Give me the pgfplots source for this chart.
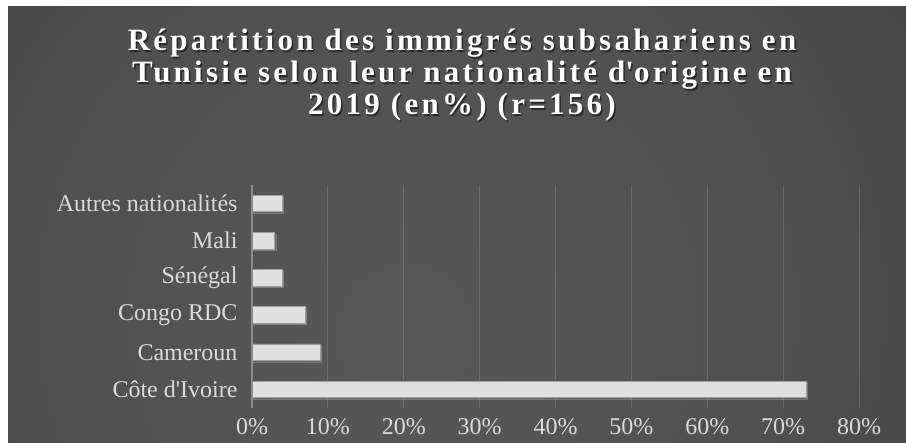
\documentclass[border=0pt]{standalone}
\usepackage{fontspec}
\setmainfont{Liberation Serif}
\newfontfamily\titlefont{Liberation Serif}[LetterSpace=10.5]
\usepackage{pgfplots}
\pgfplotsset{compat=1.18}
\usetikzlibrary{shadows}
\definecolor{barfill}{HTML}{E0E0E0}
\definecolor{bardraw}{HTML}{A0A0A0}
\definecolor{axisc}{HTML}{8C8C8C}
\definecolor{labelc}{HTML}{DADADA}
\definecolor{bg0}{HTML}{585858}
\definecolor{bg1}{HTML}{4F4F4F}
\definecolor{bg2}{HTML}{3E3E3E}
\definecolor{bg3}{HTML}{282828}
\definecolor{bg4}{HTML}{1E1E1E}
\pgfdeclareradialshading{bgshade}{\pgfpoint{-2.7bp}{-5.85bp}}{color(0bp)=(bg0); color(20bp)=(bg1); color(35bp)=(bg2); color(50bp)=(bg3); color(60bp)=(bg4); color(75bp)=(bg4)}
\begin{document}
\begin{tikzpicture}[x=1bp,y=1bp]
\fill[white] (0,0) rectangle (906,443);
\begin{scope}
\clip (8,0) rectangle (906,436);
\shade[shading=bgshade] (-43,-278.5) rectangle (957,721.5);
\end{scope}
\coordinate (axorig) at (252,53.6);
\begin{axis}[
  at={(axorig)}, anchor=origin, scale only axis,
  width=607bp, height=223bp,
  xmin=0, xmax=80, ymin=-0.5, ymax=5.5,
  xbar, bar width=16.5bp,
  xtick={0,10,...,80},
  xticklabels={0\%,10\%,20\%,30\%,40\%,50\%,60\%,70\%,80\%},
  ytick={0,1,2,3,4,5},
  yticklabels={C\^ote d\textquotesingle Ivoire,Cameroun,Congo RDC,Sénégal,Mali,Autres nationalités},
  axis line style={draw=none},
  major tick length=0,
  xmajorgrids,
  grid style={white, opacity=0.14, line width=1bp},
  ticklabel style={font=\fontsize{24bp}{28bp}\selectfont, text=labelc},
  yticklabel style={xshift=-11bp},
  xticklabel style={yshift=-7bp},
  clip=false,
]
\addplot[fill=barfill, draw=bardraw, line width=0.75bp,
  drop shadow={shadow xshift=1.5bp, shadow yshift=-1.5bp, opacity=0.45}]
  coordinates {(73,0) (9,1) (7,2) (4,3) (3,4) (4,5)};
\draw[axisc, line width=1.5bp] (axis cs:0,-0.5) -- (axis cs:0,5.5);
\end{axis}
\tikzset{ttl/.style={anchor=base, font=\titlefont\bfseries\fontsize{31bp}{33bp}\selectfont}}
\node[ttl, text=black, opacity=0.5] at (463.5,390.5) {Répartition des immigrés subsahariens en};
\node[ttl, text=black, opacity=0.5] at (463.5,358.5) {Tunisie selon leur nationalité d\textquotesingle origine en};
\node[ttl, text=black, opacity=0.5] at (463.5,326.5) {2019 (en\%) (r=156)};
\node[ttl, text=white] at (462,392) {Répartition des immigrés subsahariens en};
\node[ttl, text=white] at (462,360) {Tunisie selon leur nationalité d\textquotesingle origine en};
\node[ttl, text=white] at (462,328) {2019 (en\%) (r=156)};
\pgfresetboundingbox
\path[use as bounding box] (0,0) rectangle (906,443);
\end{tikzpicture}
\end{document}
